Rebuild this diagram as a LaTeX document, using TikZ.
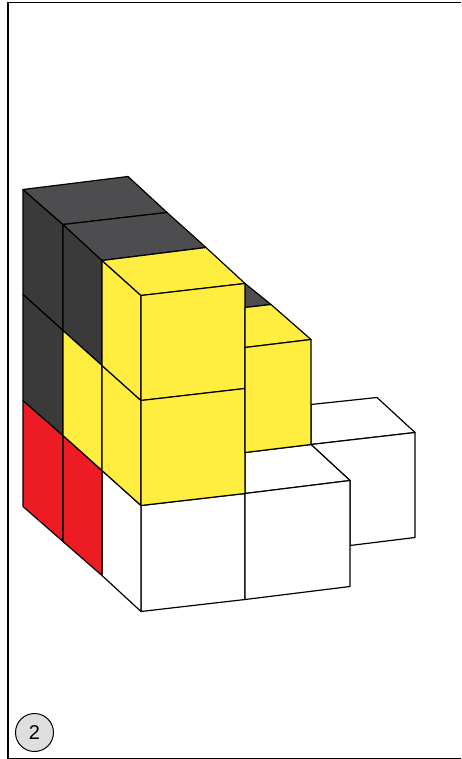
\documentclass[tikz,border=0pt]{standalone}
\usepackage{fontspec}
\setmainfont{Liberation Sans}
\usetikzlibrary{positioning, calc}

\definecolor{cubeyellow}{HTML}{FFED3F}
\definecolor{cubered}{HTML}{ED1C24}
\definecolor{darktop}{HTML}{4D4D4F}
\definecolor{darkside}{HTML}{3A3A3A}
\definecolor{badgegray}{HTML}{DEDEDE}

\tikzset{
  face/.style={draw=black, line width=1.2pt, line join=round},
  frameline/.style={draw=black, line width=1.2pt},
  badge/.style={circle, draw=black, line width=1pt, fill=badgegray, minimum size=38pt, inner sep=0pt, font=\fontsize{20}{20}\selectfont}
}

\begin{document}
\begin{tikzpicture}[x=1pt, y=-1pt]

\useasboundingbox (0, -0.5) rectangle (461, 758.5);

% left edge of the tall stack
\coordinate (A0) at (23, 189);
\coordinate (A1) at (23, 294);
\coordinate (A2) at (23, 400);
\coordinate (A3) at (23, 506);
\coordinate (B0) at (63, 224);
\coordinate (B1) at (63, 330);
\coordinate (B2) at (63, 435);
\coordinate (B3) at (63, 541);
\coordinate (C0) at (102, 260);
\coordinate (C1) at (102, 365);
\coordinate (C2) at (102, 470);
\coordinate (C3) at (102, 575);
\coordinate (D0) at (141, 295);
\coordinate (D1) at (141, 400);
\coordinate (D2) at (141, 505);
\coordinate (D3) at (141, 611);

% front right column
\coordinate (E0) at (245, 283);
\coordinate (E1) at (245, 388);
\coordinate (E2) at (245, 493);
\coordinate (E3) at (245, 599);
\coordinate (F0) at (128, 176);
\coordinate (F1) at (167, 212);
\coordinate (F2) at (206, 247);

% lower yellow block
\coordinate (G0) at (271, 304);
\coordinate (G1) at (245, 307);
\coordinate (G2) at (311, 339);
\coordinate (G3) at (245, 347);
\coordinate (G4) at (311, 444);
\coordinate (G5) at (245, 452);

% white blocks
\coordinate (H0) at (350, 480);
\coordinate (H1) at (350, 586);
\coordinate (J0) at (311, 404);
\coordinate (J1) at (377, 397);
\coordinate (J2) at (415, 432);
\coordinate (J3) at (415, 537);
\coordinate (J4) at (350, 545);

% frame
\draw[frameline] (461, 2) -- (8, 2) -- (8, 758) -- (461, 758);

% white back block
\draw[face, fill=white] (J0) -- (J1) -- (J2) -- (G4) -- cycle;
\draw[face, fill=white] (G4) -- (J2) -- (J3) -- (J4) -- (H0) -- cycle;

% white front blocks
\draw[face, fill=white] (G5) -- (G4) -- (H0) -- (E2) -- cycle;
\draw[face, fill=white] (D2) -- (E2) -- (E3) -- (D3) -- cycle;
\draw[face, fill=white] (E2) -- (H0) -- (H1) -- (E3) -- cycle;
\draw[face, fill=white] (C2) -- (D2) -- (D3) -- (C3) -- cycle;

% red
\draw[face, fill=cubered] (A2) -- (B2) -- (B3) -- (A3) -- cycle;
\draw[face, fill=cubered] (B2) -- (C2) -- (C3) -- (B3) -- cycle;

% dark sides
\draw[face, fill=darkside] (A0) -- (B0) -- (B1) -- (A1) -- cycle;
\draw[face, fill=darkside] (A1) -- (B1) -- (B2) -- (A2) -- cycle;
\draw[face, fill=darkside] (B0) -- (C0) -- (C1) -- (B1) -- cycle;

% dark tops
\draw[face, fill=darktop] (A0) -- (F0) -- (F1) -- (B0) -- cycle;
\draw[face, fill=darktop] (B0) -- (F1) -- (F2) -- (C0) -- cycle;
\draw[face, fill=darktop] (E0) -- (G0) -- (G1) -- cycle;

% yellow
\draw[face, fill=cubeyellow] (B1) -- (C1) -- (C2) -- (B2) -- cycle;
\draw[face, fill=cubeyellow] (C1) -- (D1) -- (D2) -- (C2) -- cycle;
\draw[face, fill=cubeyellow] (C0) -- (D0) -- (D1) -- (C1) -- cycle;
\draw[face, fill=cubeyellow] (C0) -- (F2) -- (E0) -- (D0) -- cycle;
\draw[face, fill=cubeyellow] (D0) -- (E0) -- (E1) -- (D1) -- cycle;
\draw[face, fill=cubeyellow] (D1) -- (E1) -- (E2) -- (D2) -- cycle;
\draw[face, fill=cubeyellow] (G1) -- (G0) -- (G2) -- (G3) -- cycle;
\draw[face, fill=cubeyellow] (G3) -- (G2) -- (G4) -- (G5) -- cycle;

% number
\node[badge] (num) at (34.5, 732) {2};

\end{tikzpicture}
\end{document}
